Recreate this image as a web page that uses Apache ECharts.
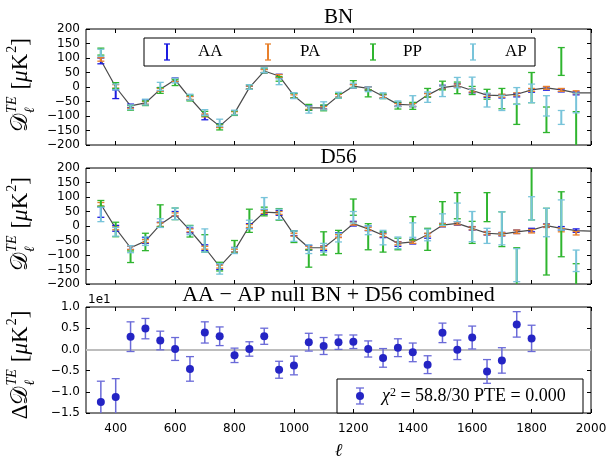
<!DOCTYPE html>
<html><head><meta charset="utf-8">
<script src="https://cdn.jsdelivr.net/npm/echarts@6/dist/echarts.min.js"></script>
<style>html,body{margin:0;padding:0;background:#fff}#c{width:610px;height:461px}</style>
</head><body><div id="c"></div>
<script>
// ---------- data ----------
const ell = [350,400,450,500,550,600,650,700,750,800,850,900,950,1000,1050,1100,1150,1200,1250,1300,1350,1400,1450,1500,1550,1600,1650,1700,1750,1800,1850,1900,1950];
const ellLine = [350,400,450,500,550,600,650,700,750,800,850,900,950,1000,1050,1100,1150,1200,1250,1300,1350,1400,1450,1500,1550,1600,1650,1700,1750,1800,1850,1900,1950,2000];

const bnTheory = [92,0,-65,-55,-8,25,-38,-95,-135,-90,-2,55,38,-30,-72,-72,-30,3,-5,-32,-60,-62,-28,-2,5,-12,-28,-30,-25,-10,-3,-10,-20,-20];
const bnAA    = [90,-25,-65,-52,-8,25,-38,-105,-133,-90,-2,55,38,-30,-72,-70,-30,3,-5,-32,-60,-62,-28,0,5,-14,-30,-32,-28,-12,-5,-12,-22];
const bnAAErr = [10,15,6,8,6,6,6,8,6,6,5,6,6,8,8,6,6,6,6,6,6,6,6,6,6,6,6,6,6,6,6,5,5];
const bnPA    = [95,2,-68,-55,-10,24,-38,-98,-135,-90,-2,55,38,-32,-72,-72,-30,3,-5,-32,-62,-62,-28,-2,5,-12,-28,-30,-25,-10,-3,-10,-18];
const bnPAErr = [6,6,5,5,5,5,5,5,5,5,5,5,5,5,5,5,5,5,5,5,5,5,5,5,5,5,5,5,5,5,5,5,5];
const bnPP    = [122,5,-72,-56,-12,15,-38,-92,-138,-90,0,57,28,-30,-70,-72,-30,10,-22,-32,-64,-65,-20,5,-3,-12,-25,-40,-94,-2,-113,88,-165];
const bnPPErr = [12,10,8,8,10,10,10,8,10,8,8,8,8,8,10,10,8,12,12,8,12,12,15,15,20,14,17,35,35,52,44,48,80];
const bnAP    = [118,0,-70,-52,2,22,-35,-88,-123,-88,0,58,18,-30,-78,-65,-28,5,-8,-30,-58,-48,-35,-15,15,13,-45,-55,-31,-22,-65,-105,-55];
const bnAPErr = [12,10,8,10,14,8,10,10,12,8,8,8,10,10,12,14,10,8,8,10,10,18,18,18,18,21,24,26,29,32,35,24,34];

const d56Theory = [75,-8,-75,-52,5,40,-15,-75,-140,-85,0,48,45,-30,-75,-75,-35,8,-10,-32,-60,-55,-30,3,9,-8,-25,-28,-20,-14,1,-8,-16,-18];
const d56AA    = [48,-8,-75,-50,5,42,-15,-75,-140,-82,0,48,45,-25,-75,-77,-31,8,-8,-32,-62,-54,-34,3,9,-8,-25,-28,-20,-14,1,-8,-16];
const d56AAErr = [18,10,6,10,8,8,8,10,10,8,8,8,8,8,8,8,8,8,8,8,8,8,8,6,6,6,6,6,6,6,6,6,6];
const d56PA    = [75,-8,-75,-52,5,40,-15,-75,-140,-85,0,48,45,-30,-75,-75,-35,8,-10,-32,-60,-55,-30,3,9,-8,-25,-28,-20,-18,1,-14,-25];
const d56PAErr = [6,5,6,5,6,5,5,5,5,5,5,5,5,5,5,5,5,5,5,5,5,5,5,5,5,5,5,5,6,6,5,6,6];
const d56PP    = [78,-12,-106,-55,35,42,-18,-60,-140,-72,18,50,40,-37,-112,-60,-55,65,-37,-55,-62,-8,-46,44,70,-22,65,-11,-150,113,-54,6,-190];
const d56PPErr = [10,25,20,30,38,20,20,30,15,22,40,15,20,20,30,40,40,28,45,35,20,40,38,40,45,38,50,60,75,92,115,112,60];
const d56AP    = [40,-20,-80,-52,10,42,-15,-50,-148,-85,5,78,40,-35,-80,-75,-40,30,-15,-40,-58,-14,-31,22,47,-2,-34,-8,-135,61,12,38,-120];
const d56APErr = [25,15,12,15,15,20,15,40,18,10,15,20,18,18,15,15,15,20,15,25,20,25,20,20,32,52,26,57,57,40,49,52,37];

const nullEll = [350,400,450,500,550,600,650,700,750,800,850,900,950,1000,1050,1100,1150,1200,1250,1300,1350,1400,1450,1500,1550,1600,1650,1700,1750,1800];
const nullVal = [-1.24,-1.12,0.30,0.49,0.21,0.01,-0.46,0.40,0.31,-0.14,0.01,0.31,-0.48,-0.38,0.17,0.08,0.17,0.18,0.01,-0.20,0.04,-0.07,-0.36,0.39,-0.01,0.28,-0.52,-0.26,0.59,0.26];
const nullErr = [0.49,0.43,0.35,0.24,0.22,0.27,0.29,0.25,0.22,0.17,0.17,0.19,0.20,0.22,0.21,0.20,0.17,0.16,0.19,0.22,0.21,0.22,0.21,0.23,0.23,0.27,0.28,0.30,0.30,0.31];

const xTicks = [400,600,800,1000,1200,1400,1600,1800,2000];
const seriesNames = ['AA','PA','PP','AP'];
const panelTitles = ['BN','D56','AA − AP null BN + D56 combined'];
const nullLegendText = ' = 58.8/30 PTE = 0.000';

// ---------- styling ----------
const SERIF = "'Liberation Serif','DejaVu Serif',serif";
const SANS = "'DejaVu Sans',sans-serif";
const colors = {AA:'#1c1ce0', PA:'#e8802c', PP:'#2fb52f', AP:'#78c4da'};
const nullColor = '#2424c4', nullErrColor = '#6a6ad8';
const gridTops = [29,168,307];
const GL = 86, GW = 505, GH = 116;

function minus(s){ return String(s).replace('-', '−'); }

function errRender(color, capHalf, lw){
  return function(params, api){
    const x = api.value(0), y = api.value(1), e = api.value(2);
    const t = api.coord([x, y + e]), b = api.coord([x, y - e]);
    const st = {stroke: color, lineWidth: lw};
    return {type:'group', children:[
      {type:'line', shape:{x1:t[0], y1:t[1], x2:b[0], y2:b[1]}, style:st},
      {type:'line', shape:{x1:t[0]-capHalf, y1:t[1], x2:t[0]+capHalf, y2:t[1]}, style:{stroke:color, lineWidth:1.3}},
      {type:'line', shape:{x1:b[0]-capHalf, y1:b[1], x2:b[0]+capHalf, y2:b[1]}, style:{stroke:color, lineWidth:1.3}}
    ]};
  };
}

const xAxes = [], yAxes = [];
for (let i = 0; i < 3; i++) {
  const tick = {show:true, inside:true, length:4, lineStyle:{color:'#000', width:1}, customValues:xTicks};
  xAxes.push({type:'value', gridIndex:i, min:300, max:2000, position:'bottom',
    axisLine:{show:false, onZero:false}, splitLine:{show:false}, axisTick:tick,
    axisLabel:{show:i===2, customValues:xTicks, color:'#000', fontFamily:SANS, fontSize:12, margin:10,
      formatter: v => String(v)},
    name: i===2 ? 'ℓ' : '', nameLocation:'middle', nameGap:29,
    nameTextStyle:{fontFamily:SERIF, fontStyle:'italic', fontSize:18, color:'#000'}});
  xAxes.push({type:'value', gridIndex:i, min:300, max:2000, position:'top',
    axisLine:{show:false, onZero:false}, splitLine:{show:false}, axisTick:tick, axisLabel:{show:false}});
  const isNull = i === 2;
  const yBase = isNull ? {min:-1.5, max:1.0, interval:0.5} : {min:-200, max:200, interval:50};
  const ytick = {show:true, inside:true, length:4, lineStyle:{color:'#000', width:1}};
  yAxes.push(Object.assign({type:'value', gridIndex:i, position:'left',
    axisLine:{show:false, onZero:false}, splitLine:{show:false}, axisTick:ytick,
    axisLabel:{color:'#000', fontFamily:SANS, fontSize:12, margin:6, showMinLabel:true, showMaxLabel:true,
      formatter: v => isNull ? minus(v.toFixed(1)) : minus(v)}}, yBase));
  yAxes.push(Object.assign({type:'value', gridIndex:i, position:'right',
    axisLine:{show:false, onZero:false}, splitLine:{show:false}, axisTick:ytick, axisLabel:{show:false}}, yBase));
}

const series = [];
const panelData = [
  {theory:bnTheory, v:{AA:bnAA,PA:bnPA,PP:bnPP,AP:bnAP}, e:{AA:bnAAErr,PA:bnPAErr,PP:bnPPErr,AP:bnAPErr}},
  {theory:d56Theory, v:{AA:d56AA,PA:d56PA,PP:d56PP,AP:d56AP}, e:{AA:d56AAErr,PA:d56PAErr,PP:d56PPErr,AP:d56APErr}}
];
panelData.forEach((pd, p) => {
  series.push({type:'line', name:'theory'+p, xAxisIndex:2*p, yAxisIndex:2*p,
    data: ellLine.map((x,i)=>[x, pd.theory[i]]), showSymbol:false, symbol:'none',
    lineStyle:{color:'#4a4a4a', width:1.2}, z:2, silent:true});
  seriesNames.forEach((n, k) => {
    series.push({type:'custom', name:n+p, xAxisIndex:2*p, yAxisIndex:2*p, clip:true, z:3+k,
      renderItem: errRender(colors[n], 3.5, 2), encode:{x:0, y:1},
      data: ell.map((x,i)=>[x, pd.v[n][i], pd.e[n][i]]), silent:true});
  });
});
series.push({type:'custom', name:'nullErr', xAxisIndex:4, yAxisIndex:4, clip:true, z:3,
  renderItem: errRender(nullErrColor, 4, 1.5), encode:{x:0, y:1},
  data: nullEll.map((x,i)=>[x, nullVal[i], nullErr[i]]), silent:true,
  markLine:{silent:true, symbol:'none', label:{show:false}, lineStyle:{color:'#bdbdbd', width:2, type:'solid'}, data:[{yAxis:0}], z:1}});
series.push({type:'scatter', name:'null', xAxisIndex:4, yAxisIndex:4, z:4, symbol:'circle', symbolSize:8,
  itemStyle:{color:nullColor, opacity:1}, data: nullEll.map((x,i)=>[x, nullVal[i]]), silent:true});

// ---------- text helpers ----------
const mctx = document.createElement('canvas').getContext('2d');
function tw(t, size, style){ mctx.font = (style||'normal') + ' ' + size + 'px ' + SERIF; return mctx.measureText(t).width; }

function yLabel(cx, cy, delta){
  const big = 23, small = 14;
  const parts = [];
  let x = 0;
  function add(t, size, style, dy){ parts.push({t, size, style, x, y:dy}); x += tw(t, size, style); }
  if (delta) add('Δ', big, 'normal', 0);
  add('𝒟', big, 'normal', 0);
  const sx = x + 1;
  parts.push({t:'TE', size:small, style:'italic', x:sx, y:-9});
  parts.push({t:'ℓ', size:small, style:'italic', x:sx, y:9});
  x = sx + Math.max(tw('TE', small, 'italic'), tw('ℓ', small, 'italic')) + 7;
  add('[', big, 'normal', 0);
  add('μ', big, 'italic', 0);
  add('K', big, 'normal', 0);
  x += 1;
  add('2', small, 'normal', -9);
  add(']', big, 'normal', 0);
  const W = x;
  return {type:'group', x:cx, y:cy, rotation:Math.PI/2, children: parts.map(p => ({type:'text', x:p.x - W/2, y:p.y,
    style:{text:p.t, fontSize:p.size, fontFamily:SERIF, fontStyle:p.style, fill:'#000', textAlign:'left', textVerticalAlign:'middle'}}))};
}

const graphics = [];
const titleY = [17, 157, 295];
const titleSize = [21, 21, 22];
panelTitles.forEach((t, i) => graphics.push({type:'text', x:GL + GW/2, y:titleY[i],
  style:{text:t, fontSize:titleSize[i], fontFamily:SERIF, fill:'#000', textAlign:'center', textVerticalAlign:'middle'}}));
graphics.push(yLabel(21, gridTops[0] + GH/2 - 2, false));
graphics.push(yLabel(21, gridTops[1] + GH/2 - 2, false));
graphics.push(yLabel(21, gridTops[2] + GH/2, true));
graphics.push({type:'text', x:88, y:300, style:{text:'1e1', fontSize:12, fontFamily:SANS, fill:'#000', textAlign:'left', textVerticalAlign:'middle'}});

// legend panel 1
const legChildren = [{type:'rect', shape:{x:144, y:38, width:391, height:28}, style:{fill:'#fff', stroke:'#000', lineWidth:1}}];
const legIconX = [167, 268, 373, 473], legTextX = [198, 300, 403, 505];
seriesNames.forEach((n, k) => {
  const c = colors[n], cx = legIconX[k];
  legChildren.push({type:'line', shape:{x1:cx, y1:44, x2:cx, y2:60}, style:{stroke:c, lineWidth:2}});
  legChildren.push({type:'line', shape:{x1:cx-3, y1:44, x2:cx+3, y2:44}, style:{stroke:c, lineWidth:1.3}});
  legChildren.push({type:'line', shape:{x1:cx-3, y1:60, x2:cx+3, y2:60}, style:{stroke:c, lineWidth:1.3}});
  legChildren.push({type:'text', x:legTextX[k], y:52, style:{text:n, fontSize:17, fontFamily:SERIF, fill:'#000', textAlign:'left', textVerticalAlign:'middle'}});
});
graphics.push({type:'group', z:100, children:legChildren});

// legend panel 3
graphics.push({type:'group', z:100, children:[
  {type:'rect', shape:{x:337, y:379, width:246, height:34}, style:{fill:'#fff', stroke:'#000', lineWidth:1}},
  {type:'line', shape:{x1:360, y1:388, x2:360, y2:404}, style:{stroke:nullErrColor, lineWidth:1.5}},
  {type:'line', shape:{x1:356, y1:388, x2:364, y2:388}, style:{stroke:nullErrColor, lineWidth:1.3}},
  {type:'line', shape:{x1:356, y1:404, x2:364, y2:404}, style:{stroke:nullErrColor, lineWidth:1.3}},
  {type:'circle', shape:{cx:360, cy:396, r:4}, style:{fill:nullColor}},
  {type:'text', x:382, y:396, style:{text:'{i|χ}{s|2}{n|' + nullLegendText + '}', fill:'#000', textAlign:'left', textVerticalAlign:'middle',
    rich:{i:{fontFamily:SERIF, fontStyle:'italic', fontSize:18}, s:{fontFamily:SERIF, fontSize:12, verticalAlign:'top', padding:[0,0,6,0]}, n:{fontFamily:SERIF, fontSize:18}}}}
]});

const chart = echarts.init(document.getElementById('c'), null, {renderer:'canvas'});
chart.setOption({
  animation:false,
  backgroundColor:'#fff',
  grid: gridTops.map(t => ({left:GL, width:GW, top:t, height:GH, show:true, borderColor:'#000', borderWidth:1, backgroundColor:'transparent'})),
  xAxis: xAxes,
  yAxis: yAxes,
  series: series,
  graphic: graphics
});
</script></body></html>
